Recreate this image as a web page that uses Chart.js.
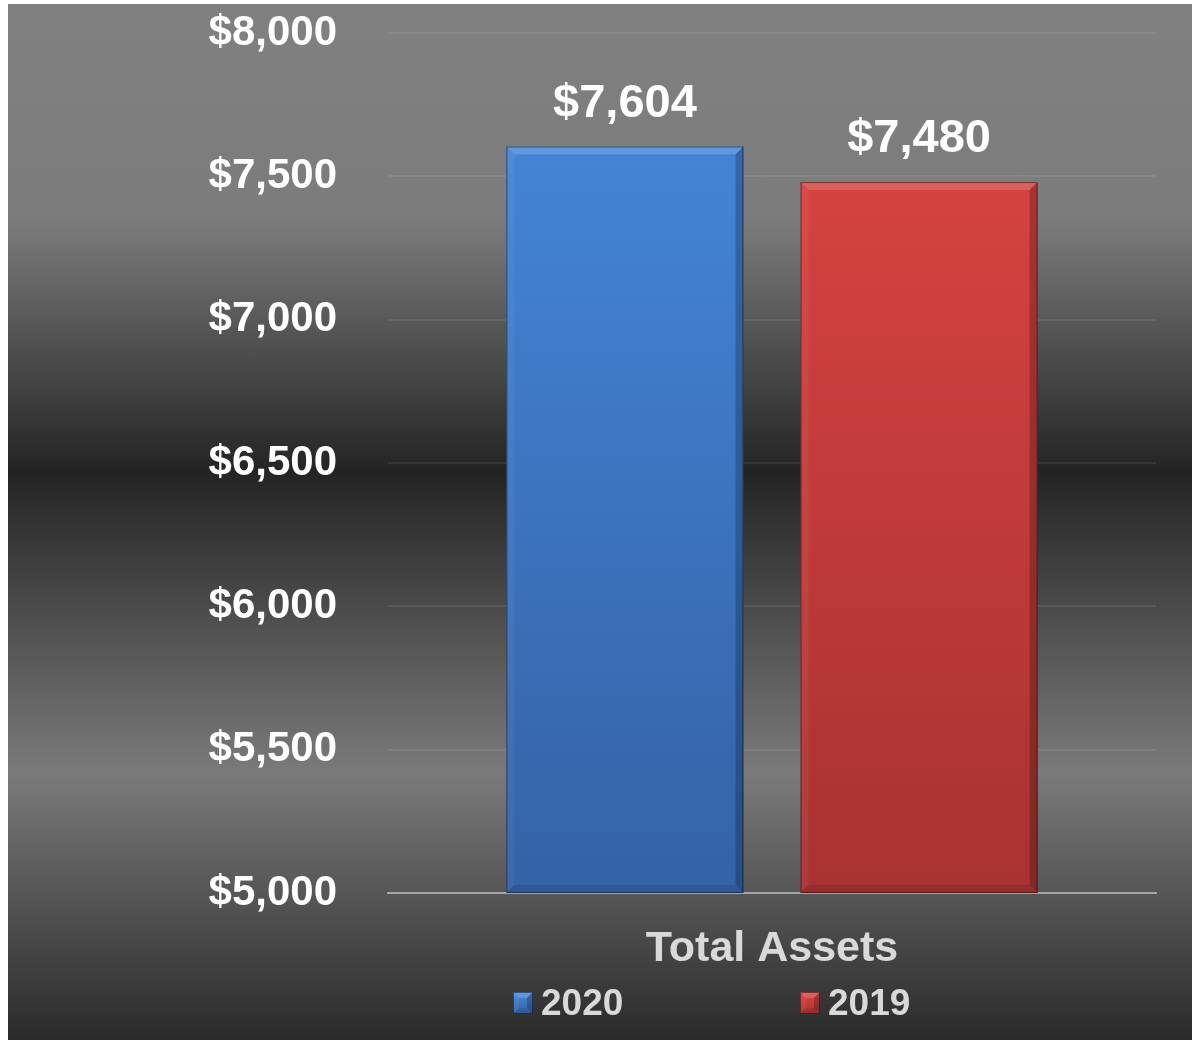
<!DOCTYPE html>
<html>
<head>
<meta charset="utf-8">
<title>Total Assets</title>
<script src="https://cdn.jsdelivr.net/npm/chart.js"></script>
<style>
    body { margin: 0; background: #ffffff; }
    #wrap {
        position: absolute; left: 8px; top: 4px; width: 1184px; height: 1036px;
        background: linear-gradient(to bottom, #808080 0%, #7c7c7c 20.7%, #242424 45.1%, #7a7a7a 74.2%, #2a2a2a 100%);
    }
</style>
</head>
<body>
<div id="wrap"><canvas id="myChart"></canvas></div>
<script>
"use strict";

const categories = ["Total Assets"];
const seriesLabels = ["2020", "2019"];
const values2020 = [7604];
const values2019 = [7480];
const yTicks = [5000, 5500, 6000, 6500, 7000, 7500, 8000];

// top / bottom colours of each series
const topColors = ["#4689dd", "#de4642"];
const bottomColors = ["#3462a6", "#a83232"];

const FONT = "'Liberation Sans', Arial, sans-serif";

function money(v) {
    return "$" + Number(v).toLocaleString("en-US");
}

function barFill(i) {
    return (context) => {
        const { ctx, chartArea } = context.chart;
        if (!chartArea) return topColors[i];
        const g = ctx.createLinearGradient(0, chartArea.top, 0, chartArea.bottom);
        g.addColorStop(0, topColors[i]);
        g.addColorStop(1, bottomColors[i]);
        return g;
    };
}

// bevel edges on the bars, like the office look
function bevel(ctx, l, t, r, b, size) {
    ctx.save();
    ctx.fillStyle = "rgba(255,255,255,0.16)";
    ctx.beginPath();
    ctx.moveTo(l, t); ctx.lineTo(r, t); ctx.lineTo(r - size, t + size); ctx.lineTo(l + size, t + size);
    ctx.fill();
    ctx.fillStyle = "rgba(255,255,255,0.05)";
    ctx.beginPath();
    ctx.moveTo(l, t); ctx.lineTo(l + size, t + size); ctx.lineTo(l + size, b - size); ctx.lineTo(l, b);
    ctx.fill();
    ctx.fillStyle = "rgba(0,0,0,0.22)";
    ctx.beginPath();
    ctx.moveTo(r, t); ctx.lineTo(r, b); ctx.lineTo(r - size, b - size); ctx.lineTo(r - size, t + size);
    ctx.fill();
    ctx.fillStyle = "rgba(0,0,0,0.10)";
    ctx.beginPath();
    ctx.moveTo(l, b); ctx.lineTo(r, b); ctx.lineTo(r - size, b - size); ctx.lineTo(l + size, b - size);
    ctx.fill();
    ctx.strokeStyle = "rgba(0,0,0,0.45)";
    ctx.lineWidth = 1;
    ctx.strokeRect(l + 0.5, t + 0.5, r - l - 1, b - t - 1);
    ctx.restore();
}

const barExtras = {
    id: "barExtras",
    afterDatasetsDraw(chart) {
        const ctx = chart.ctx;
        const bottom = chart.chartArea.bottom;
        chart.data.datasets.forEach((ds, i) => {
            chart.getDatasetMeta(i).data.forEach((bar, j) => {
                const p = bar.getProps(["x", "y", "base", "width"], true);
                bevel(ctx, p.x - p.width / 2, p.y, p.x + p.width / 2, Math.min(p.base, bottom), 8);
                ctx.save();
                ctx.fillStyle = "#ffffff";
                ctx.font = "bold 47px " + FONT;
                ctx.textAlign = "center";
                ctx.textBaseline = "alphabetic";
                ctx.fillText(money(ds.data[j]), p.x, p.y - 30);
                ctx.restore();
            });
        });
    }
};

// legend drawn by hand so the two entries sit far apart like the original
const wideLegend = {
    id: "wideLegend",
    afterDraw(chart) {
        const ctx = chart.ctx;
        const left = 505, y = 999, spacing = 287;
        ctx.save();
        ctx.font = "bold 37px " + FONT;
        chart.data.datasets.forEach((ds, i) => {
            const x = left + spacing * i;
            const g = ctx.createLinearGradient(0, y - 11, 0, y + 11);
            g.addColorStop(0, topColors[i]);
            g.addColorStop(1, bottomColors[i]);
            ctx.fillStyle = g;
            ctx.fillRect(x, y - 11, 20, 22);
            bevel(ctx, x, y - 11, x + 20, y + 11, 6);
            ctx.fillStyle = "#d9d9d9";
            ctx.textAlign = "left";
            ctx.textBaseline = "middle";
            ctx.fillText(ds.label, x + 28, y + 2);
        });
        ctx.restore();
    }
};

document.addEventListener("DOMContentLoaded", () => {
    const chartDiv = document.getElementById("myChart");

    new Chart(chartDiv, {
        type: "bar",
        data: {
            labels: categories,
            datasets: [
                { label: seriesLabels[0], data: values2020, backgroundColor: barFill(0) },
                { label: seriesLabels[1], data: values2019, backgroundColor: barFill(1) }
            ]
        },
        options: {
            responsive: true,
            maintainAspectRatio: false,
            animation: false,
            categoryPercentage: 0.766,
            barPercentage: 0.806,
            layout: { padding: { top: 4, right: 36, left: 0, bottom: 0 } },
            plugins: {
                legend: { display: false },
                tooltip: { enabled: false }
            },
            scales: {
                x: {
                    grid: { display: false },
                    border: { display: true, color: "#a6a6a6", width: 2 },
                    ticks: {
                        color: "#d9d9d9",
                        padding: 22,
                        font: { family: FONT, size: 43, weight: "bold" }
                    },
                    afterFit(scale) { scale.height = 147; }
                },
                y: {
                    min: yTicks[0],
                    max: yTicks[yTicks.length - 1],
                    afterBuildTicks(scale) { scale.ticks = yTicks.map(v => ({ value: v })); },
                    grid: { color: "rgba(255,255,255,0.08)", lineWidth: 2, drawTicks: false },
                    border: { display: false },
                    ticks: {
                        color: "#ffffff",
                        padding: 51,
                        font: { family: FONT, size: 42, weight: "bold" },
                        callback: (v) => money(v)
                    },
                    afterFit(scale) {
                        scale.width = 380;
                        scale.paddingTop = 29;
                        scale.paddingBottom = 0;
                    }
                }
            }
        },
        plugins: [barExtras, wideLegend]
    });
});
</script>
</body>
</html>
